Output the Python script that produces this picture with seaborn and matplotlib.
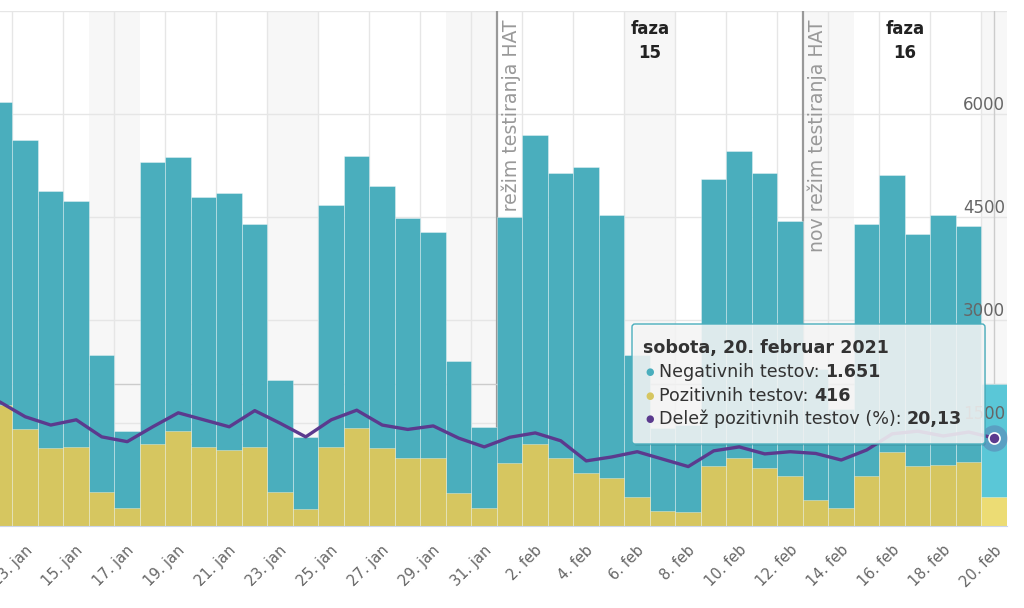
import numpy as np
import pandas as pd
import matplotlib
matplotlib.use("Agg")
import matplotlib.pyplot as plt
import matplotlib.transforms as mtransforms
from matplotlib.patches import FancyBboxPatch
import seaborn as sns

# ---------------- data ----------------
dates = pd.date_range("2021-01-12", "2021-02-20", freq="D")
negative = [4416, 4212, 3751, 3591, 2000, 1121, 4101, 3985, 3649, 3746,
            3247, 1626, 1052, 3519, 3955, 3819, 3494, 3281, 1926, 1179,
            3591, 4499, 4150, 4445, 3822, 2072, 1207, 1266, 4174, 4475,
            4286, 3713, 1901, 1450, 3672, 4029, 3378, 3640, 3437, 1651]
positive = [1762, 1408, 1131, 1146, 490, 267, 1194, 1383, 1146, 1107,
            1146, 500, 248, 1155, 1432, 1131, 995, 995, 476, 267,
            913, 1194, 985, 777, 706, 418, 218, 199, 874, 985,
            849, 728, 379, 258, 725, 1082, 874, 888, 936, 416]
pct = [28.4, 25.0, 23.1, 24.3, 20.4, 19.3, 22.7, 25.9, 24.3, 22.7,
       26.4, 23.5, 20.4, 24.3, 26.5, 23.1, 22.1, 22.9, 20.1, 18.1,
       20.3, 21.3, 19.5, 14.9, 15.8, 17.0, 15.3, 13.6, 17.2, 18.1,
       16.5, 17.0, 16.6, 15.1, 17.4, 21.1, 21.7, 20.6, 21.5, 20.13]
tick_labels = ["13. jan", "15. jan", "17. jan", "19. jan", "21. jan", "23. jan",
               "25. jan", "27. jan", "29. jan", "31. jan", "2. feb", "4. feb",
               "6. feb", "8. feb", "10. feb", "12. feb", "14. feb", "16. feb",
               "18. feb", "20. feb"]
y_ticks = [0, 1500, 3000, 4500, 6000, 7500]
y_tick_labels = ["1500", "3000", "4500", "6000"]
phase_starts = ["2021-02-01", "2021-02-13"]
phase_labels = ["faza\n15", "faza\n16"]
regime_label = "nov režim testiranja HAT"
tooltip_title = "sobota, 20. februar 2021"
series_names = ["Negativnih testov", "Pozitivnih testov", "Delež pozitivnih testov (%)"]

# ---------------- style ----------------
TEAL = "#4AAEBD"
TEAL_HI = "#5AC7D7"
YELLOW = "#D6C660"
YELLOW_HI = "#ECDC74"
PURPLE = "#5B3A8E"
GRID = "#e6e6e6"
LABEL = "#666666"

sns.set_style("white")
plt.rcParams["font.family"] = ["DejaVu Sans"]

W, H = 1024, 608
fig = plt.figure(figsize=(W / 100, H / 100), dpi=100)
fig.patch.set_facecolor("white")
# plot area in pixels: x 0..1007, y 11..526 (from top)
ax = fig.add_axes([0, (H - 526) / H, 1007 / W, 515 / H])

n = len(dates)
idx = np.arange(n)
total = np.array(negative) + np.array(positive)

# stacked bars: total (teal) then positive (yellow) over it
sns.barplot(x=idx, y=total, color=TEAL, width=1.0, saturation=1, ax=ax,
            edgecolor=(1, 1, 1, 0.35), linewidth=0.7, zorder=2)
sns.barplot(x=idx, y=positive, color=YELLOW, width=1.0, saturation=1, ax=ax,
            edgecolor=(1, 1, 1, 0.35), linewidth=0.7, zorder=2)
ax.containers[0][-1].set_facecolor(TEAL_HI)
ax.containers[1][-1].set_facecolor(YELLOW_HI)

ax.set_xlim(0.01, n - 0.5)
ax.set_ylim(0, 7500)

# weekend bands (Saturday + Sunday)
for i, d in enumerate(dates):
    if d.weekday() == 5:
        ax.axvspan(i - 0.5, i + 1.5, color="#f7f7f7", zorder=0.2, lw=0)

# grid / x ticks
ax.set_axisbelow(True)
lab_of = lambda d: f"{d.day}. " + ("jan" if d.month == 1 else "feb")
tick_pos = [i - 0.5 for i, d in enumerate(dates) if lab_of(d) in tick_labels]
ax.set_xticks(tick_pos)
ax.set_xticklabels(tick_labels, rotation=45, ha="right", va="top",
                   rotation_mode="anchor", color=LABEL, fontsize=10.5)
ax.tick_params(axis="x", length=10, color="#ccd6eb", width=1, pad=2)
for lab in ax.get_xticklabels():
    lab.set_transform(lab.get_transform() +
                      mtransforms.ScaledTranslation(12 / 100, 0, fig.dpi_scale_trans))
ax.set_yticks(y_ticks)
ax.tick_params(axis="y", length=0, labelleft=False, labelright=False)
ax.grid(axis="x", color=GRID, lw=1, zorder=0.5)
ax.grid(axis="y", color=GRID, lw=1, zorder=0.5)

# right-side value labels drawn inside the plot, above their grid lines
ylab_tr = mtransforms.blended_transform_factory(ax.transAxes, ax.transData) + \
    mtransforms.ScaledTranslation(-2 / 100, 9 / 100, fig.dpi_scale_trans)
for v, s in zip(y_ticks[1:-1], y_tick_labels):
    ax.text(1.0, v, s, transform=ylab_tr, ha="right", va="center",
            color=LABEL, fontsize=12, zorder=4)

ax.set_xlabel("")
ax.set_ylabel("")
for s in ["top", "left", "right"]:
    ax.spines[s].set_visible(False)
ax.spines["bottom"].set_color("#ccd6eb")
ax.spines["bottom"].set_zorder(3)

# plot lines for testing regime and phase labels
px_y = mtransforms.blended_transform_factory(ax.transData, mtransforms.IdentityTransform())
phase_idx = [list(dates).index(pd.Timestamp(p)) for p in phase_starts]
phase_bounds = phase_idx + [n]
for k, pi in enumerate(phase_idx):
    xl = pi - 0.5
    ax.axvline(xl, color="#999999", lw=1.6, zorder=0.8)
    tr = px_y + mtransforms.ScaledTranslation(5 / 100, 0, fig.dpi_scale_trans)
    ax.text(xl, H - 20, regime_label, transform=tr, rotation=90, ha="right", va="top",
            rotation_mode="anchor", color="#999999", fontsize=13.6, zorder=0.9)
    mid = (pi - 0.5 + phase_bounds[k + 1] - 0.5) / 2
    ax.text(mid, H - 20, phase_labels[k], transform=px_y, ha="center", va="top",
            fontsize=12, fontweight="bold", color="#222222", linespacing=1.45, zorder=0.9)

# crosshairs at hovered point (20 feb)
ax.axhline(total[-1], color="#cccccc", lw=1, zorder=0.85)
ax.axvline(idx[-1], color="#cccccc", lw=1, zorder=0.85)

# percentage line on secondary axis
ax2 = ax.twinx()
sns.lineplot(x=idx, y=pct, ax=ax2, color=PURPLE, linewidth=2.4, zorder=5)
ax2.plot(idx[-1], pct[-1], "o", ms=19, color=PURPLE, alpha=0.28, mec="none", zorder=5)
ax2.plot(idx[-1], pct[-1], "o", ms=8, color=PURPLE, mec="white", mew=1.2, zorder=6)
ax2.set_ylim(0, 515 / 4.37)
ax2.set_xlim(ax.get_xlim())
ax2.set_yticks([])
ax2.set_ylabel("")
for s in ax2.spines.values():
    s.set_visible(False)

# tooltip
ident = mtransforms.IdentityTransform()
shadow = FancyBboxPatch((634, H - 446), 352, 120, boxstyle="round,pad=0,rounding_size=3",
                        transform=ident, fc=(0, 0, 0, 0.08), ec="none", zorder=9)
fig.patches.append(shadow)
box = FancyBboxPatch((632, H - 444), 353, 120, boxstyle="round,pad=0,rounding_size=3",
                     transform=ident, fc=(247 / 255, 247 / 255, 247 / 255, 0.86),
                     ec=TEAL, lw=1, zorder=10)
fig.patches.append(box)

FS = 12.6
fig.text(643, H - 348, tooltip_title, transform=ident, fontsize=FS, fontweight="bold",
         color="#333333", va="center", ha="left", zorder=11)
values = [f"{negative[-1]:,}".replace(",", "."), f"{positive[-1]}",
          f"{pct[-1]:.2f}".replace(".", ",")]
colors = [TEAL, YELLOW, PURPLE]
fig.canvas.draw()
renderer = fig.canvas.get_renderer()
for k, yy in enumerate([372, 396, 419]):
    fig.text(645, H - yy, "●", transform=ident, fontsize=7, color=colors[k],
             va="center", ha="left", zorder=11)
    t = fig.text(659, H - yy, series_names[k] + ": ", transform=ident, fontsize=FS,
                 color="#333333", va="center", ha="left", zorder=11)
    bb = t.get_window_extent(renderer)
    fig.text(bb.x1, H - yy, values[k], transform=ident, fontsize=FS, fontweight="bold",
             color="#333333", va="center", ha="left", zorder=11)

fig.savefig("out.png", dpi=100)
